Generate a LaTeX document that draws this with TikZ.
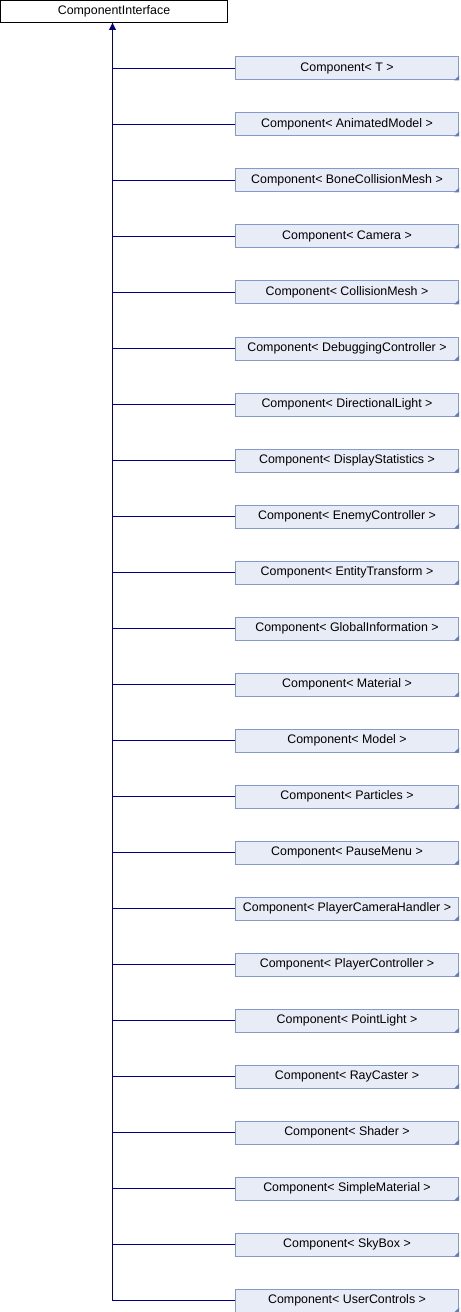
\documentclass[tikz,border=0pt]{standalone}
\usepackage{fontspec}
\setmainfont{Liberation Sans}
\usetikzlibrary{arrows.meta}

\definecolor{boxfill}{RGB}{232,236,247}
\definecolor{boxline}{RGB}{132,154,204}
\definecolor{boxcorner}{RGB}{100,125,185}
\definecolor{linkblue}{RGB}{0,0,128}

\begin{document}
\begin{tikzpicture}[x=0.75pt,y=-0.75pt,
  every node/.style={font=\fontsize{9.3}{11}\selectfont, inner sep=0pt},
  basebox/.style={draw=black, fill=white, line width=0.75pt,
    minimum width=170.25pt, minimum height=16.5pt},
  childbox/.style={draw=boxline, fill=boxfill, line width=0.75pt,
    minimum width=167.25pt, minimum height=17.25pt},
  link/.style={draw=linkblue, line width=0.75pt}]
  \useasboundingbox (0,0) rectangle (460,1312);
  % base class
  \node[basebox] (iface) at (114,11.5) {ComponentInterface};
  \coordinate (trunk) at (112.5,23);
  % derived classes
  \foreach \name [count=\i] in {T,AnimatedModel,BoneCollisionMesh,Camera,CollisionMesh,
      DebuggingController,DirectionalLight,DisplayStatistics,EnemyController,
      EntityTransform,GlobalInformation,Material,Model,Particles,PauseMenu,
      PlayerCameraHandler,PlayerController,PointLight,RayCaster,Shader,
      SimpleMaterial,SkyBox,UserControls} {
    \node[childbox] (c\i) at (347,12.5+56*\i) {Component< \name\ >};
    \fill[boxcorner] (c\i.south east) -- ++(-5,0) -- ++(5,-5) -- cycle;
    \draw[link] (trunk) |- (c\i.west);
  }
  % inheritance arrow
  \draw[link, -{Triangle[length=5.25pt,width=5.25pt]}] ([yshift=-6pt]trunk) -- (trunk);
\end{tikzpicture}
\end{document}
